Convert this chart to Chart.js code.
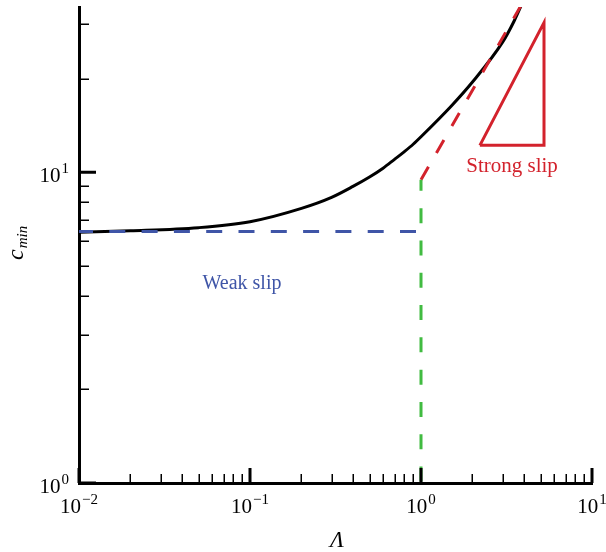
<!DOCTYPE html>
<html>
<head>
<meta charset="utf-8">
<script src="https://cdn.jsdelivr.net/npm/chart.js@4.4.1/dist/chart.umd.min.js"></script>
<style>
  html, body { margin: 0; padding: 0; background: #fff; }
  canvas { display: block; }
</style>
</head>
<body>
<canvas id="chart" width="606" height="552"></canvas>
<script>
// full solution: Λ against c_min
const lambdaVals = [0.01, 0.02, 0.05, 0.1, 0.2, 0.3, 0.4, 0.5, 0.6, 0.7, 0.8, 0.9, 1, 1.5, 2, 3, 3.5, 4];
const cMinVals = [6.41, 6.48, 6.63, 6.93, 7.65, 8.3, 9.0, 9.65, 10.3, 11.0, 11.65, 12.3, 13.0, 16.3, 19.5, 26.2, 30.6, 36.0];

// weak slip limit (horizontal dashed)
const weakX = [0.01, 0.96];
const weakY = [6.45, 6.45];

// Λ = 1 divider (vertical dashed), drawn top to bottom
const dividerX = [1, 1];
const dividerY = [9.45, 1];

// strong slip limit (sloped dashed)
const strongX = [1, 4];
const strongY = [9.45, 35.7];

// slope triangle
const triX = [2.21, 5.24, 5.24, 2.21];
const triY = [12.2, 30.3, 12.2, 12.2];

// tick labels
const xMajorTicks = [0.01, 0.1, 1, 10];
const xTickExps = ["\u22122", "\u22121", "0", "1"];
const yMajorTicks = [1, 10];
const yTickExps = ["0", "1"];

const BLUE = "#3f55a7";
const RED = "#d3222c";
const GREEN = "#41bb41";
const SERIF = "'Liberation Serif', 'DejaVu Serif', serif";

function pts(xs, ys) {
    return xs.map((v, i) => ({ x: v, y: ys[i] }));
}

// draws "10" with a raised exponent
function drawPow(ctx, exp, x, y, align) {
    ctx.font = "21px " + SERIF;
    const wBase = ctx.measureText("10").width;
    ctx.font = "15px " + SERIF;
    const wExp = ctx.measureText(exp).width;
    const total = wBase + wExp + 1;
    let x0 = align === "right" ? x - total : x - total / 2;
    ctx.textAlign = "left";
    ctx.textBaseline = "alphabetic";
    ctx.font = "21px " + SERIF;
    ctx.fillText("10", x0, y);
    ctx.font = "15px " + SERIF;
    ctx.fillText(exp, x0 + wBase + 1, y - 9);
}

const axisDecor = {
    id: "axisDecor",
    afterDraw(chart) {
        const { ctx, scales: { x, y } } = chart;
        const yAxis = x.getPixelForValue(0.01);
        const xAxis = y.getPixelForValue(1);
        ctx.save();
        ctx.strokeStyle = "#000";
        ctx.fillStyle = "#000";

        // minor ticks
        ctx.lineWidth = 1.5;
        ctx.beginPath();
        [0.01, 0.1, 1].forEach((d) => {
            for (let k = 2; k <= 9; k++) {
                const px = Math.round(x.getPixelForValue(d * k)) + 0.25;
                ctx.moveTo(px, xAxis);
                ctx.lineTo(px, xAxis - 9);
            }
        });
        const yMinor = [2, 3, 4, 5, 6, 7, 8, 9, 20, 30];
        yMinor.forEach((v) => {
            const py = Math.round(y.getPixelForValue(v)) + 0.25;
            ctx.moveTo(yAxis, py);
            ctx.lineTo(yAxis + 10, py);
        });
        ctx.stroke();

        // major ticks
        ctx.lineWidth = 3;
        ctx.beginPath();
        xMajorTicks.forEach((v) => {
            const px = x.getPixelForValue(v);
            ctx.moveTo(px, xAxis);
            ctx.lineTo(px, xAxis - 15);
        });
        yMajorTicks.forEach((v) => {
            const py = y.getPixelForValue(v);
            ctx.moveTo(yAxis, py);
            ctx.lineTo(yAxis + 17, py);
        });
        ctx.stroke();

        // tick labels
        xMajorTicks.forEach((v, i) => {
            drawPow(ctx, xTickExps[i], x.getPixelForValue(v), xAxis + 30, "center");
        });
        yMajorTicks.forEach((v, i) => {
            drawPow(ctx, yTickExps[i], yAxis - 10, y.getPixelForValue(v) + 10, "right");
        });

        // axis titles
        ctx.textBaseline = "alphabetic";
        ctx.textAlign = "center";
        ctx.font = "italic 23px " + SERIF;
        ctx.fillText("\u039B", 337, 547);

        ctx.save();
        ctx.translate(23, 260);
        ctx.rotate(-Math.PI / 2);
        ctx.textAlign = "left";
        ctx.font = "italic 24px " + SERIF;
        ctx.fillText("c", 0, 0);
        const wc = ctx.measureText("c").width;
        ctx.font = "italic 15px " + SERIF;
        ctx.fillText("min", wc + 1, 4);
        ctx.restore();

        // region labels
        ctx.textAlign = "center";
        ctx.font = "20px " + SERIF;
        ctx.fillStyle = BLUE;
        ctx.fillText("Weak slip", 242, 289);
        ctx.font = "21px " + SERIF;
        ctx.fillStyle = RED;
        ctx.fillText("Strong slip", 512, 172);

        ctx.restore();
    }
};

const lineBase = { pointRadius: 0, fill: false, tension: 0, borderWidth: 3 };

new Chart(document.getElementById("chart"), {
    type: "line",
    data: {
        datasets: [
            { ...lineBase, label: "weak", data: pts(weakX, weakY), borderColor: BLUE, borderDash: [16, 16.3], borderDashOffset: 2 },
            { ...lineBase, label: "divider", data: pts(dividerX, dividerY), borderColor: GREEN, borderDash: [15, 17.3], borderDashOffset: 4 },
            { ...lineBase, label: "strong", data: pts(strongX, strongY), borderColor: RED, borderDash: [15, 16] },
            { ...lineBase, label: "slope", data: pts(triX, triY), borderColor: RED },
            { ...lineBase, label: "cmin", data: pts(lambdaVals, cMinVals), borderColor: "#000", cubicInterpolationMode: "monotone" },
        ],
    },
    options: {
        responsive: false,
        animation: false,
        events: [],
        layout: { padding: { left: 79, top: 7, right: 14, bottom: 69 } },
        plugins: {
            legend: { display: false },
            tooltip: { enabled: false },
        },
        scales: {
            x: {
                type: "logarithmic",
                min: 0.01,
                max: 10,
                grid: { display: false, drawTicks: false },
                ticks: { display: false },
                border: { display: true, color: "#000", width: 3 },
            },
            y: {
                type: "logarithmic",
                min: 1,
                max: 34,
                grid: { display: false, drawTicks: false },
                ticks: { display: false },
                border: { display: true, color: "#000", width: 3 },
            },
        },
    },
    plugins: [axisDecor],
});
</script>
</body>
</html>
